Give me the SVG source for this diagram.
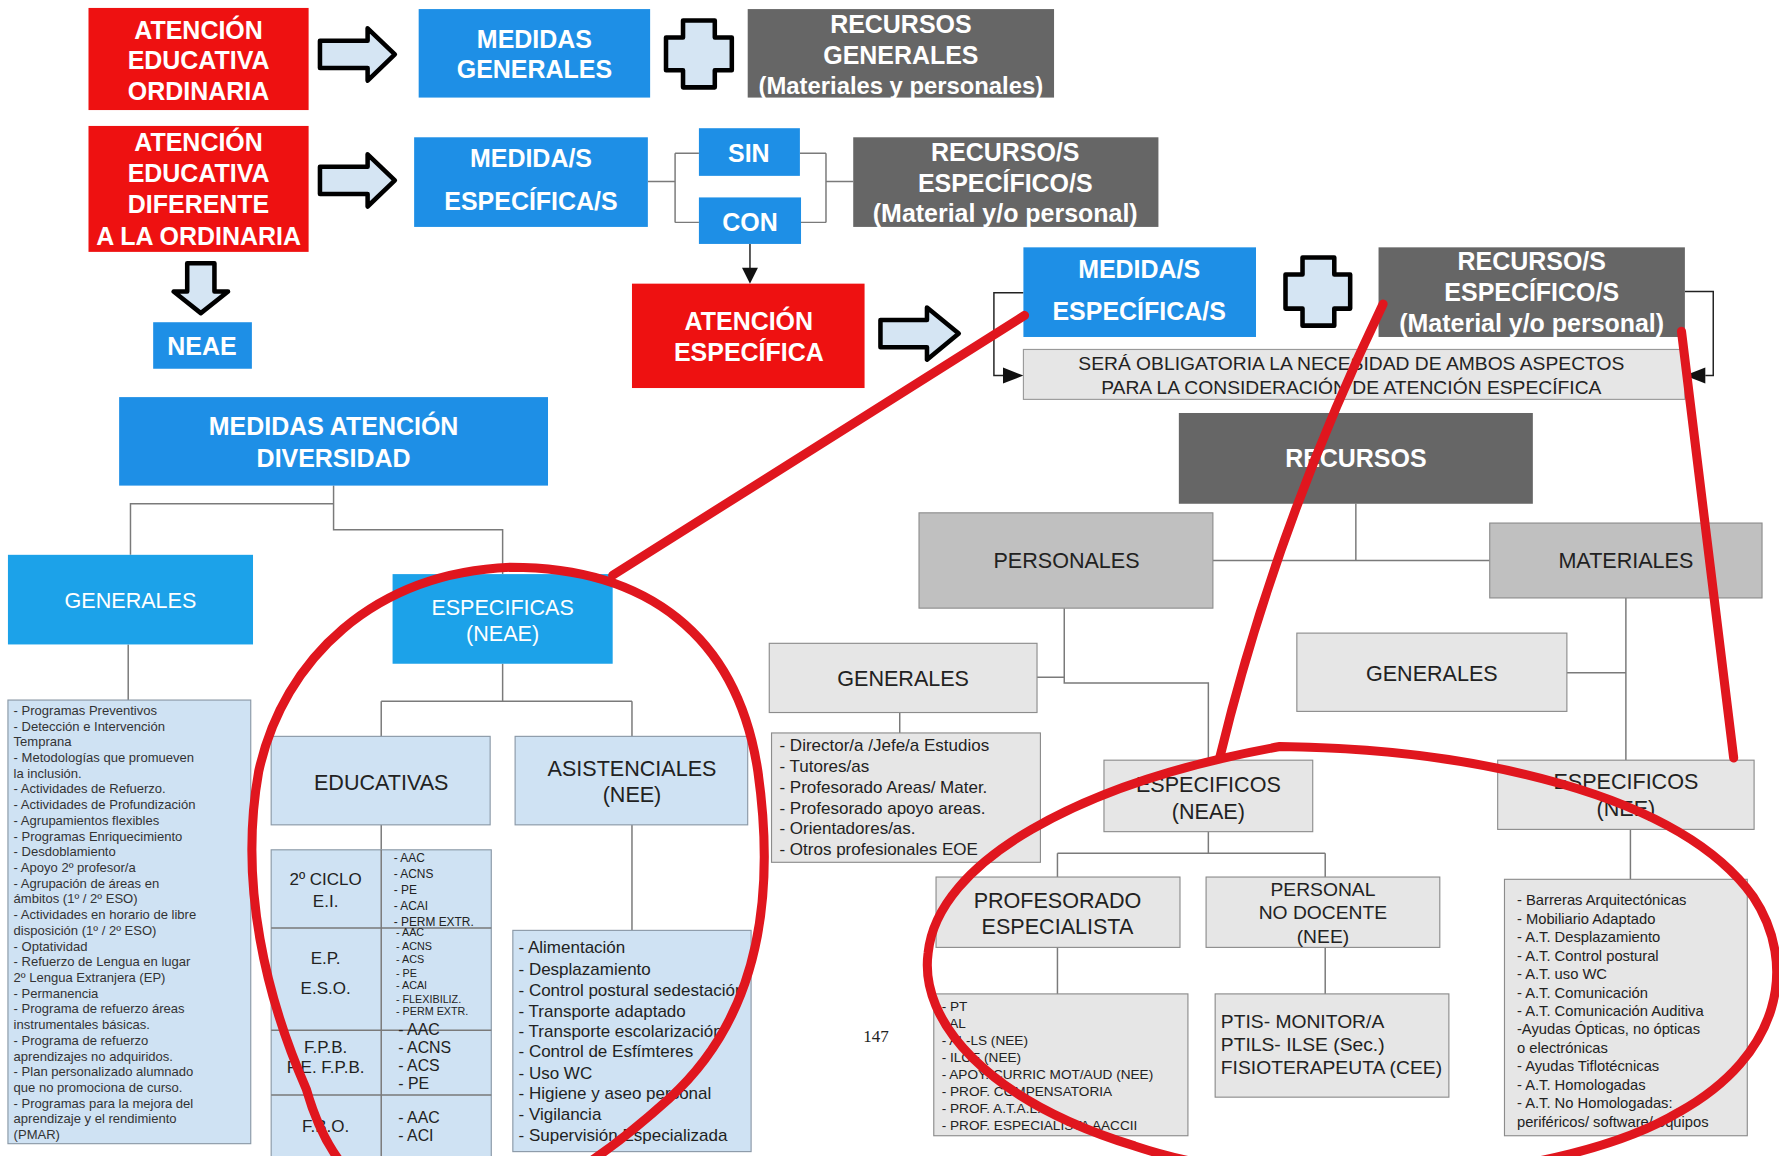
<svg xmlns="http://www.w3.org/2000/svg" width="1779" height="1156" viewBox="0 0 1779 1156">
<defs>
<style>
.red{fill:#ee1111}
.blue{fill:#1e8fe6}
.lblue{fill:#1ca2e9}
.dgrey{fill:#666666}
.mgrey{fill:#c0c0c0;stroke:#8c8c8c;stroke-width:1}
.lgrey{fill:#e6e6e6;stroke:#8c8c8c;stroke-width:1}
.pblue{fill:#cfe2f3;stroke:#8a98a6;stroke-width:1}
.hw{font-family:"Liberation Sans",Arial,sans-serif;font-weight:bold;fill:#ffffff;text-anchor:middle;font-size:22px}
.hr{font-family:"Liberation Sans",Arial,sans-serif;fill:#ffffff;text-anchor:middle;font-size:19px}
.t{font-family:"Liberation Sans",Arial,sans-serif;fill:#222222}
.c{text-anchor:middle}
.conn{fill:none;stroke:#7a7a7a;stroke-width:1.3}
.blk{fill:none;stroke:#222222;stroke-width:1.3}
.outl{fill:#d5e5f3;stroke:#000000;stroke-width:4;stroke-linejoin:round}
.ann{fill:none;stroke:#e0161e;stroke-width:8;stroke-linecap:round;stroke-linejoin:round}
</style>
</defs>
<rect width="1779" height="1156" fill="#ffffff"/>
<g transform="scale(1.1346)">

<g id="connectors">
<path class="conn" d="M571 160 H595 M595 135 V196 M595 135 H616 M595 196 H616 M705 135 H728 M706 196 H728 M728 135 V196 M728 160 H752"/>
<path class="blk" d="M661 215 V237"/>
<polygon points="654,236 668,236 661,250" fill="#111"/>
<path class="blk" d="M902 258 H876 V331 H886"/>
<polygon points="884,324 902,331 884,338" fill="#111"/>
<path class="blk" d="M1485 257 H1510 V331 H1503"/>
<polygon points="1503,324 1485,331 1503,338" fill="#111"/>
<path class="conn" d="M294 428 V467 H443 V506 M294 444 H115 V489 M113 568 V617 M443 585 V618 M336 618 H557 M336 618 V649 M557 618 V649 M336 727 V749 M557 727 V820"/>
<path class="conn" d="M1195 444 V494 M1069 494 H1313 M938 536 V602 H1065 V670 M914 597 H938 M793 628 V646 M1065 733 V752 M932 752 H1168 M932 752 V773 M1168 752 V773 M932 835 V876 M1168 835 V876 M1433 527 V670 M1381 593 H1433 M1437 731 V775"/>
</g>

<g id="n_ordinaria">
<rect class="red" x="78" y="7" width="194" height="90"/>
<text class="hw"><tspan x="175" y="34">ATENCIÓN</tspan><tspan x="175" y="61">EDUCATIVA</tspan><tspan x="175" y="88">ORDINARIA</tspan></text>
</g>
<g id="a1"><polygon class="outl" points="282,36 324,36 324,25 348,48 324,71 324,60 282,60"/></g>
<g id="n_medidas_generales">
<rect class="blue" x="369" y="8" width="204" height="78"/>
<text class="hw"><tspan x="471" y="42">MEDIDAS</tspan><tspan x="471" y="69">GENERALES</tspan></text>
</g>
<g id="plus1"><path class="outl" d="M602 18 H630 V33 H645 V62 H630 V77 H602 V62 H587 V33 H602 Z"/></g>
<g id="n_recursos_generales">
<rect class="dgrey" x="659" y="8" width="270" height="78"/>
<text class="hw"><tspan x="794" y="29">RECURSOS</tspan><tspan x="794" y="56">GENERALES</tspan><tspan x="794" y="83" style="font-size:21px">(Materiales y personales)</tspan></text>
</g>

<g id="n_diferente">
<rect class="red" x="78" y="111" width="194" height="111"/>
<text class="hw"><tspan x="175" y="133">ATENCIÓN</tspan><tspan x="175" y="160">EDUCATIVA</tspan><tspan x="175" y="188">DIFERENTE</tspan><tspan x="175" y="216">A LA ORDINARIA</tspan></text>
</g>
<g id="a2"><polygon class="outl" points="282,147 324,147 324,136 348,159 324,182 324,171 282,171"/></g>
<g id="n_medidas_especificas">
<rect class="blue" x="365" y="121" width="206" height="79"/>
<text class="hw"><tspan x="468" y="147">MEDIDA/S</tspan><tspan x="468" y="185">ESPECÍFICA/S</tspan></text>
</g>
<g id="n_sin"><rect class="blue" x="616" y="113" width="89" height="42"/><text class="hw" x="660" y="143">SIN</text></g>
<g id="n_con"><rect class="blue" x="616" y="174" width="90" height="41"/><text class="hw" x="661" y="204">CON</text></g>
<g id="n_recursos_especificos">
<rect class="dgrey" x="752" y="121" width="269" height="79"/>
<text class="hw"><tspan x="886" y="142">RECURSO/S</tspan><tspan x="886" y="169">ESPECÍFICO/S</tspan><tspan x="886" y="196">(Material y/o personal)</tspan></text>
</g>

<g id="a_down"><polygon class="outl" points="165,232 189,232 189,257 201,257 177,276 153,257 165,257"/></g>
<g id="n_neae"><rect class="blue" x="135" y="284" width="87" height="41"/><text class="hw" x="178" y="313">NEAE</text></g>

<g id="n_atencion_especifica">
<rect class="red" x="557" y="250" width="205" height="92"/>
<text class="hw"><tspan x="660" y="291">ATENCIÓN</tspan><tspan x="660" y="318">ESPECÍFICA</tspan></text>
</g>
<g id="a3"><polygon class="outl" points="776,282 817,282 817,271 845,294 817,317 817,306 776,306"/></g>
<g id="n_medidas_especificas2">
<rect class="blue" x="902" y="218" width="205" height="79"/>
<text class="hw"><tspan x="1004" y="245">MEDIDA/S</tspan><tspan x="1004" y="282">ESPECÍFICA/S</tspan></text>
</g>
<g id="plus2"><path class="outl" d="M1148 227 H1176 V242 H1190 V272 H1176 V287 H1148 V272 H1133 V242 H1148 Z"/></g>
<g id="n_recursos_especificos2">
<rect class="dgrey" x="1215" y="218" width="270" height="79"/>
<text class="hw"><tspan x="1350" y="238">RECURSO/S</tspan><tspan x="1350" y="265">ESPECÍFICO/S</tspan><tspan x="1350" y="293">(Material y/o personal)</tspan></text>
</g>
<g id="n_obligatoria">
<rect x="902" y="308" width="583" height="44" fill="#e6e6e6" stroke="#999" stroke-width="1"/>
<text class="t c" style="font-size:17px"><tspan x="1191" y="326">SERÁ OBLIGATORIA LA NECESIDAD DE AMBOS ASPECTOS</tspan><tspan x="1191" y="347">PARA LA CONSIDERACIÓN DE ATENCIÓN ESPECÍFICA</tspan></text>
</g>

<g id="n_medidas_diversidad">
<rect class="blue" x="105" y="350" width="378" height="78"/>
<text class="hw"><tspan x="294" y="383">MEDIDAS ATENCIÓN</tspan><tspan x="294" y="412">DIVERSIDAD</tspan></text>
</g>
<g id="n_generales_div"><rect class="lblue" x="7" y="489" width="216" height="79"/><text class="hr" x="115" y="536">GENERALES</text></g>
<g id="n_especificas_neae"><rect class="lblue" x="346" y="506" width="194" height="79"/><text class="hr"><tspan x="443" y="542">ESPECIFICAS</tspan><tspan x="443" y="565">(NEAE)</tspan></text></g>

<g id="n_lista_generales">
<rect class="pblue" x="7" y="617" width="214" height="391"/>
<text class="t" style="font-size:11.5px;fill:#333"><tspan x="12" y="630">- Programas Preventivos</tspan><tspan x="12" dy="13.85">- Detección e Intervención</tspan><tspan x="12" dy="13.85">Temprana</tspan><tspan x="12" dy="13.85">- Metodologías que promueven</tspan><tspan x="12" dy="13.85">la inclusión.</tspan><tspan x="12" dy="13.85">- Actividades de Refuerzo.</tspan><tspan x="12" dy="13.85">- Actividades de Profundización</tspan><tspan x="12" dy="13.85">- Agrupamientos flexibles</tspan><tspan x="12" dy="13.85">- Programas Enriquecimiento</tspan><tspan x="12" dy="13.85">- Desdoblamiento</tspan><tspan x="12" dy="13.85">- Apoyo 2º profesor/a</tspan><tspan x="12" dy="13.85">- Agrupación de áreas en</tspan><tspan x="12" dy="13.85">ámbitos (1º / 2º ESO)</tspan><tspan x="12" dy="13.85">- Actividades en horario de libre</tspan><tspan x="12" dy="13.85">disposición  (1º / 2º ESO)</tspan><tspan x="12" dy="13.85">- Optatividad</tspan><tspan x="12" dy="13.85">- Refuerzo de Lengua en lugar</tspan><tspan x="12" dy="13.85">2º Lengua Extranjera (EP)</tspan><tspan x="12" dy="13.85">- Permanencia</tspan><tspan x="12" dy="13.85">- Programa de refuerzo áreas</tspan><tspan x="12" dy="13.85">instrumentales básicas.</tspan><tspan x="12" dy="13.85">- Programa de refuerzo</tspan><tspan x="12" dy="13.85">aprendizajes no adquiridos.</tspan><tspan x="12" dy="13.85">- Plan personalizado alumnado</tspan><tspan x="12" dy="13.85">que no promociona de curso.</tspan><tspan x="12" dy="13.85">- Programas para la mejora del</tspan><tspan x="12" dy="13.85">aprendizaje y el rendimiento</tspan><tspan x="12" dy="13.85">(PMAR)</tspan></text>
</g>

<g id="n_educativas"><rect class="pblue" x="239" y="649" width="193" height="78"/><text class="t c" x="336" y="696" style="font-size:19px">EDUCATIVAS</text></g>
<g id="n_asistenciales"><rect class="pblue" x="454" y="649" width="205" height="78"/><text class="t c" style="font-size:19px"><tspan x="557" y="684">ASISTENCIALES</tspan><tspan x="557" y="707">(NEE)</tspan></text></g>

<g id="n_tabla">
<rect class="pblue" x="239" y="749" width="194" height="280"/>
<path class="conn" d="M336 749 V1029 M239 818 H433 M239 908 H433 M239 965 H433"/>
<text class="t c" style="font-size:15px"><tspan x="287" y="780">2º CICLO</tspan><tspan x="287" y="799">E.I.</tspan><tspan x="287" y="850">E.P.</tspan><tspan x="287" y="876">E.S.O.</tspan><tspan x="287" y="928">F.P.B.</tspan><tspan x="287" y="946">P.E. F.P.B.</tspan><tspan x="287" y="998">F.B.O.</tspan></text>
<text class="t" style="font-size:10.5px"><tspan x="347" y="760">- AAC</tspan><tspan x="347" y="774">- ACNS</tspan><tspan x="347" y="788">- PE</tspan><tspan x="347" y="802">- ACAI</tspan><tspan x="347" y="816">- PERM EXTR.</tspan></text>
<text class="t" style="font-size:9.5px"><tspan x="349" y="825">- AAC</tspan><tspan x="349" y="837">- ACNS</tspan><tspan x="349" y="849">- ACS</tspan><tspan x="349" y="861">- PE</tspan><tspan x="349" y="872">- ACAI</tspan><tspan x="349" y="884">- FLEXIBILIZ.</tspan><tspan x="349" y="895">- PERM EXTR.</tspan></text>
<text class="t" style="font-size:14px"><tspan x="351" y="912">- AAC</tspan><tspan x="351" y="928">- ACNS</tspan><tspan x="351" y="944">- ACS</tspan><tspan x="351" y="960">- PE</tspan><tspan x="351" y="990">- AAC</tspan><tspan x="351" y="1006">- ACI</tspan></text>
</g>

<g id="n_lista_asistenciales">
<rect class="pblue" x="452" y="820" width="210" height="195"/>
<text class="t" style="font-size:15px"><tspan x="457" y="840">- Alimentación</tspan><tspan x="457" y="859">- Desplazamiento</tspan><tspan x="457" y="878">- Control postural sedestación</tspan><tspan x="457" y="896">- Transporte adaptado</tspan><tspan x="457" y="914">- Transporte escolarización</tspan><tspan x="457" y="932">- Control de Esfímteres</tspan><tspan x="457" y="951">- Uso WC</tspan><tspan x="457" y="969">- Higiene y aseo personal</tspan><tspan x="457" y="987">- Vigilancia</tspan><tspan x="457" y="1006">- Supervisión Especializada</tspan></text>
</g>

<g id="page_number"><text x="772" y="918" style="font-family:'Liberation Serif',serif;font-size:15px;fill:#222" text-anchor="middle">147</text></g>

<g id="n_recursos"><rect class="dgrey" x="1039" y="364" width="312" height="80"/><text class="hw" x="1195" y="412">RECURSOS</text></g>
<g id="n_personales"><rect class="mgrey" x="810" y="452" width="259" height="84"/><text class="t c" x="940" y="501" style="font-size:19px">PERSONALES</text></g>
<g id="n_materiales"><rect class="mgrey" x="1313" y="461" width="240" height="66"/><text class="t c" x="1433" y="501" style="font-size:19px">MATERIALES</text></g>
<g id="n_generales_pers"><rect class="lgrey" x="678" y="567" width="236" height="61"/><text class="t c" x="796" y="605" style="font-size:19px">GENERALES</text></g>
<g id="n_lista_pers_generales">
<rect class="lgrey" x="680" y="646" width="237" height="114"/>
<text class="t" style="font-size:15px"><tspan x="687" y="662">- Director/a /Jefe/a Estudios</tspan><tspan x="687" y="680">- Tutores/as</tspan><tspan x="687" y="699">- Profesorado Areas/ Mater.</tspan><tspan x="687" y="717">- Profesorado apoyo areas.</tspan><tspan x="687" y="735">- Orientadores/as.</tspan><tspan x="687" y="754">- Otros profesionales EOE</tspan></text>
</g>
<g id="n_generales_mat"><rect class="lgrey" x="1143" y="558" width="238" height="69"/><text class="t c" x="1262" y="600" style="font-size:19px">GENERALES</text></g>
<g id="n_especificos_neae"><rect class="lgrey" x="973" y="670" width="184" height="63"/><text class="t c" style="font-size:19px"><tspan x="1065" y="698">ESPECIFICOS</tspan><tspan x="1065" y="722">(NEAE)</tspan></text></g>
<g id="n_especificos_nee"><rect class="lgrey" x="1320" y="670" width="226" height="61"/><text class="t c" style="font-size:19px"><tspan x="1433" y="695">ESPECIFICOS</tspan><tspan x="1433" y="719">(NEE)</tspan></text></g>
<g id="n_profesorado"><rect class="lgrey" x="825" y="773" width="215" height="62"/><text class="t c" style="font-size:19px"><tspan x="932" y="800">PROFESORADO</tspan><tspan x="932" y="823">ESPECIALISTA</tspan></text></g>
<g id="n_no_docente"><rect class="lgrey" x="1063" y="773" width="206" height="62"/><text class="t c" style="font-size:17px"><tspan x="1166" y="790">PERSONAL</tspan><tspan x="1166" y="810">NO DOCENTE</tspan><tspan x="1166" y="831">(NEE)</tspan></text></g>
<g id="n_lista_profesorado">
<rect class="lgrey" x="823" y="876" width="224" height="125"/>
<text class="t" style="font-size:12px"><tspan x="830" y="891">- PT</tspan><tspan x="830" y="906">- AL</tspan><tspan x="830" y="921">- AL-LS (NEE)</tspan><tspan x="830" y="936">- ILCE (NEE)</tspan><tspan x="830" y="951">- APOY. CURRIC MOT/AUD (NEE)</tspan><tspan x="830" y="966">- PROF. COMPENSATORIA</tspan><tspan x="830" y="981">- PROF. A.T.A.L.</tspan><tspan x="830" y="996">- PROF. ESPECIALISTA AACCII</tspan></text>
</g>
<g id="n_lista_no_docente">
<rect class="lgrey" x="1071" y="876" width="206" height="91"/>
<text class="t" style="font-size:17px"><tspan x="1076" y="906">PTIS- MONITOR/A</tspan><tspan x="1076" y="926">PTILS- ILSE (Sec.)</tspan><tspan x="1076" y="947">FISIOTERAPEUTA (CEE)</tspan></text>
</g>
<g id="n_lista_materiales">
<rect class="lgrey" x="1326" y="775" width="214" height="226"/>
<text class="t" style="font-size:13px"><tspan x="1337" y="798">- Barreras Arquitectónicas</tspan><tspan x="1337" dy="16.25">- Mobiliario Adaptado</tspan><tspan x="1337" dy="16.25">- A.T. Desplazamiento</tspan><tspan x="1337" dy="16.25">- A.T. Control postural</tspan><tspan x="1337" dy="16.25">- A.T. uso WC</tspan><tspan x="1337" dy="16.25">- A.T. Comunicación</tspan><tspan x="1337" dy="16.25">- A.T. Comunicación Auditiva</tspan><tspan x="1337" dy="16.25">-Ayudas Ópticas, no ópticas</tspan><tspan x="1337" dy="16.25">o electrónicas</tspan><tspan x="1337" dy="16.25">- Ayudas Tiflotécnicas</tspan><tspan x="1337" dy="16.25">- A.T. Homologadas</tspan><tspan x="1337" dy="16.25">- A.T. No Homologadas:</tspan><tspan x="1337" dy="16.25">periféricos/ software/ equipos</tspan></text>
</g>

<g id="annotations">
<path class="ann" d="M903 278 L540 507"/>
<path class="ann" d="M450 500 C570 500 650 560 668 680 C685 800 665 900 590 968 C540 1013 470 1068 400 1070 C330 1072 290 1030 270 960 C235 880 210 780 228 680 C250 580 330 505 450 500 Z"/>
<path class="ann" d="M1219 268 Q1123 468 1075 668"/>
<path class="ann" d="M1482 292 L1528 668"/>
<path class="ann" d="M1128 658 C1300 660 1480 700 1545 790 C1585 850 1570 930 1480 980 C1380 1040 1150 1060 1000 1010 C870 970 810 900 818 840 C826 760 950 690 1128 658 Z"/>
</g>
</g>
</svg>
